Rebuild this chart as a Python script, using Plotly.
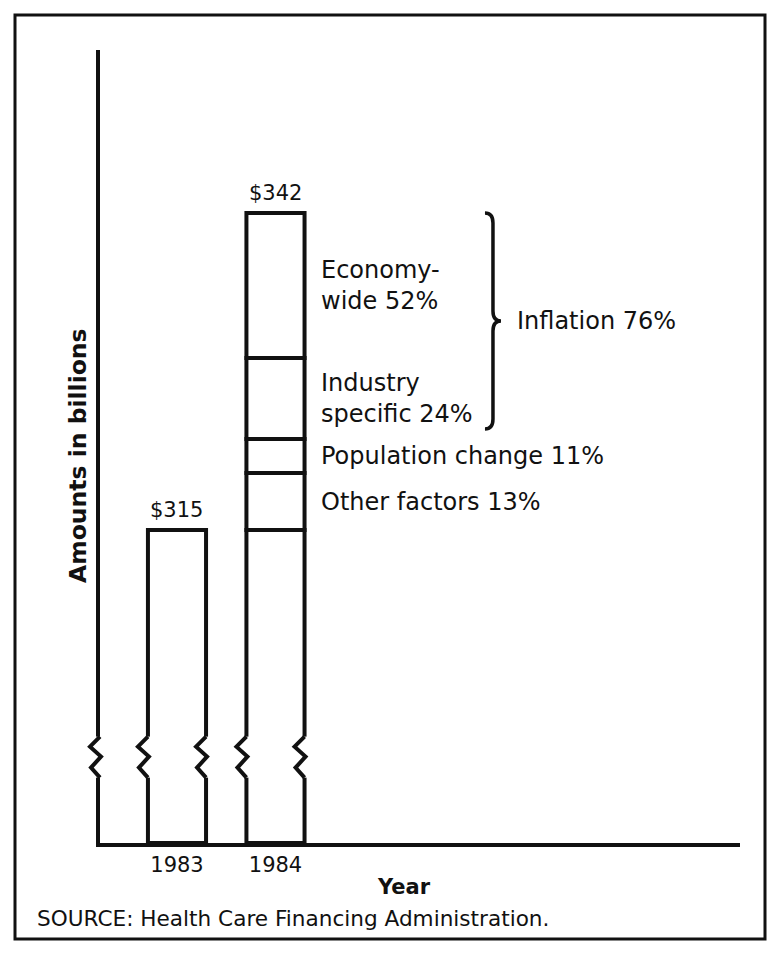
import plotly.graph_objects as go

# ==========================================
# Data (amounts in billions of dollars)
# ==========================================
YEARS = ["1983", "1984"]
TOTALS = [315, 342]

# 1984 increase broken into factors, bottom to top (heights as drawn)
SEGMENT_NAMES = ["Other factors", "Population change", "Industry<br>specific", "Economy-<br>wide"]
SEGMENT_PCTS = [13, 11, 24, 52]
SEGMENT_AMOUNTS = [4.85, 2.9, 6.9, 12.35]

INFLATION_LABEL = "Inflation 76%"
SOURCE = "SOURCE: Health Care Financing Administration."

# ==========================================
# Layout constants
# ==========================================
W, H = 783, 957
M_L, M_R, M_T, M_B = 100, 43, 50, 114
PLOT_W = W - M_L - M_R
PLOT_H = H - M_T - M_B

X_MIN, X_MAX = -0.7817, 5.716
Y_MIN, Y_MAX = 288.34, 355.88       # broken axis: bars start at the break
BAR_WIDTH = 0.59
PX_X = PLOT_W / (X_MAX - X_MIN)
PX_Y = PLOT_H / (Y_MAX - Y_MIN)

FONT = "DejaVu Sans"
INK = "#111111"


def paper_x(px):
    return (px - M_L) / PLOT_W


def paper_y(py):
    return (H - M_B - py) / PLOT_H


def data_to_paper(x, y):
    return (x - X_MIN) / (X_MAX - X_MIN), (y - Y_MIN) / (Y_MAX - Y_MIN)


# bar pieces: 1983 full bar, 1984 base up to 1983 level, then the factor segments
xs, bases, heights = [0], [Y_MIN], [TOTALS[0] - Y_MIN]
xs.append(1)
bases.append(Y_MIN)
heights.append(TOTALS[0] - Y_MIN)
level = TOTALS[0]
seg_mid = []
for amt in SEGMENT_AMOUNTS:
    xs.append(1)
    bases.append(level)
    heights.append(amt)
    seg_mid.append(level + amt / 2)
    level += amt

fig = go.Figure()
fig.add_trace(go.Bar(
    x=xs, y=heights, base=bases, width=BAR_WIDTH,
    marker=dict(color="white", line=dict(color=INK, width=4)),
    hoverinfo="skip", showlegend=False,
))

annotations = []

# value labels above bars
for i, total in enumerate(TOTALS):
    annotations.append(dict(
        x=i, y=total, xref="x", yref="y", text=f"${total}", showarrow=False,
        xanchor="center", yanchor="bottom", yshift=6,
        font=dict(family=FONT, size=21, color=INK),
    ))

# factor labels to the right of the 1984 bar
for name, pct, ym in zip(SEGMENT_NAMES, SEGMENT_PCTS, seg_mid):
    annotations.append(dict(
        x=1 + BAR_WIDTH / 2 + 14 / PX_X, y=ym, xref="x", yref="y",
        text=f"{name} {pct}%", showarrow=False, xanchor="left", yanchor="middle",
        align="left", font=dict(family=FONT, size=24, color=INK),
    ))

# brace around the two inflation segments
brace_top = TOTALS[1]
brace_bot = TOTALS[0] + SEGMENT_AMOUNTS[0] + SEGMENT_AMOUNTS[1] + 0.85
brace_mid = (brace_top + brace_bot) / 2
xb = 3.208
curl = xb - 8 / PX_X
tip = xb + 8 / PX_X
c = 10 / PX_Y
brace_path = (
    f"M {curl},{brace_top} Q {xb},{brace_top} {xb},{brace_top - c} "
    f"L {xb},{brace_mid + c} Q {xb},{brace_mid} {tip},{brace_mid} "
    f"Q {xb},{brace_mid} {xb},{brace_mid - c} "
    f"L {xb},{brace_bot + c} Q {xb},{brace_bot} {curl},{brace_bot}"
)

annotations.append(dict(
    x=tip + 14 / PX_X, y=brace_mid, xref="x", yref="y", text=INFLATION_LABEL,
    showarrow=False, xanchor="left", yanchor="middle",
    font=dict(family=FONT, size=24, color=INK),
))

# axis titles and source note
annotations.append(dict(
    x=paper_x(78), y=paper_y(456), xref="paper", yref="paper",
    text="<b>Amounts in billions</b>", textangle=-90, showarrow=False,
    xanchor="center", yanchor="middle",
    font=dict(family=FONT, size=23.5, color=INK),
))
annotations.append(dict(
    x=paper_x(404), y=paper_y(887), xref="paper", yref="paper",
    text="<b>Year</b>", showarrow=False, xanchor="center", yanchor="middle",
    font=dict(family=FONT, size=21, color=INK),
))
annotations.append(dict(
    x=paper_x(35), y=paper_y(918), xref="paper", yref="paper", text=SOURCE,
    showarrow=False, xanchor="left", yanchor="middle",
    font=dict(family=FONT, size=21.6, color=INK),
))

shapes = []

# axis break marks (zigzags) on the y-axis and every bar edge, in paper coords
BREAK_TOP = 297.4
ZIG = [(0, 0), (-10, 10), (1, 20), (-9, 31), (0, 41)]
edges = [X_MIN]
for i in range(len(YEARS)):
    edges += [i - BAR_WIDTH / 2, i + BAR_WIDTH / 2]
for x0 in edges:
    px0, py_top = data_to_paper(x0, BREAK_TOP)
    shapes.append(dict(
        type="rect", xref="paper", yref="paper", layer="above",
        x0=px0 - 4 / PLOT_W, x1=px0 + 4 / PLOT_W,
        y0=py_top - 41 / PLOT_H, y1=py_top,
        fillcolor="white", line=dict(width=0),
    ))
    pts = [(px0 + dx / PLOT_W, py_top - dy / PLOT_H) for dx, dy in ZIG]
    path = "M " + " L ".join(f"{px},{py}" for px, py in pts)
    shapes.append(dict(type="path", xref="paper", yref="paper", layer="above",
                       path=path, line=dict(color=INK, width=4)))

shapes.append(dict(type="path", xref="x", yref="y", layer="above", path=brace_path,
                   line=dict(color=INK, width=3.5)))

# frame around the whole figure
shapes.append(dict(
    type="rect", xref="paper", yref="paper",
    x0=paper_x(15), x1=paper_x(765), y0=paper_y(939), y1=paper_y(15),
    line=dict(color=INK, width=3),
))

fig.update_layout(
    width=W, height=H,
    margin=dict(l=M_L, r=M_R, t=M_T, b=M_B),
    plot_bgcolor="white", paper_bgcolor="white",
    barmode="overlay",
    annotations=annotations,
    shapes=shapes,
    showlegend=False,
)
fig.update_xaxes(
    range=[X_MIN, X_MAX], tickvals=list(range(len(YEARS))), ticktext=YEARS,
    showgrid=False, zeroline=False, showline=True, linecolor=INK, linewidth=4,
    ticks="", tickfont=dict(family=FONT, size=21, color=INK),
)
fig.update_yaxes(
    range=[Y_MIN, Y_MAX], showgrid=False, zeroline=False, showticklabels=False,
    showline=True, linecolor=INK, linewidth=4, ticks="",
)

# drop the default page margin so the figure sits at the window origin
fig.write_html(
    "out.html",
    config={"displayModeBar": False},
    post_script="document.body.style.margin='0px';",
)
